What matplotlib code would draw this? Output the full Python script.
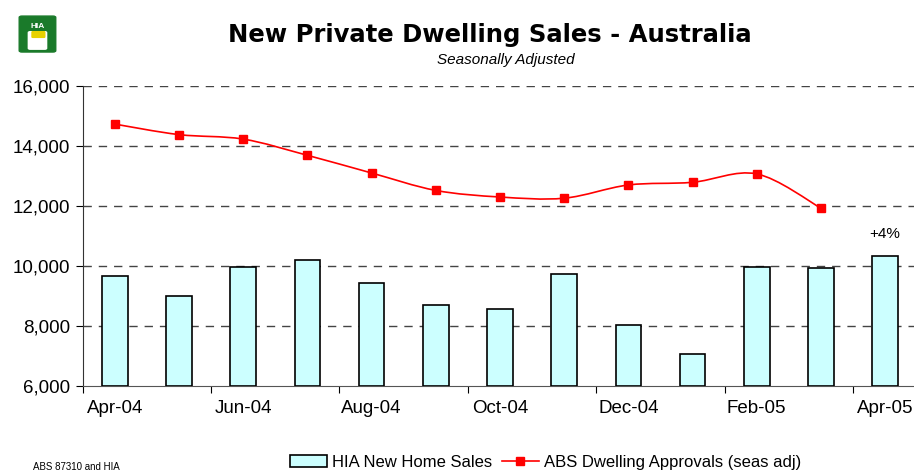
import matplotlib
matplotlib.use("Agg")
import matplotlib.pyplot as plt
import numpy as np
from matplotlib.path import Path
from matplotlib.patches import PathPatch, FancyBboxPatch
from matplotlib.lines import Line2D
from matplotlib.patches import Patch

# data
months = ["Apr-04", "May-04", "Jun-04", "Jul-04", "Aug-04", "Sep-04", "Oct-04",
          "Nov-04", "Dec-04", "Jan-05", "Feb-05", "Mar-05", "Apr-05"]
hia_sales = [9640, 9000, 9960, 10180, 9420, 8690, 8560,
             9730, 8020, 7070, 9960, 9910, 10320]
abs_approvals = [14720, 14370, 14220, 13680, 13090, 12510, 12290,
                 12250, 12690, 12780, 13060, 11920]
yticks = [6000, 8000, 10000, 12000, 14000, 16000]

plt.rcParams['font.family'] = ['Liberation Sans', 'DejaVu Sans']

fig = plt.figure(figsize=(9.14, 4.73), dpi=100)
ax = fig.add_axes([0.0905, 0.1846, 0.913, 0.6342])

x = np.arange(len(months))
ax.bar(x, [v - 6000 for v in hia_sales], bottom=6000, width=0.4,
       color='#CCFFFF', edgecolor='black', linewidth=1.2, zorder=3)

# smoothed line (excel style bezier through the points)
xa = np.arange(len(abs_approvals), dtype=float)
ya = np.array(abs_approvals, dtype=float)
verts = [(xa[0], ya[0])]
codes = [Path.MOVETO]
n = len(xa)
for i in range(n - 1):
    p0 = np.array([xa[max(i - 1, 0)], ya[max(i - 1, 0)]])
    p1 = np.array([xa[i], ya[i]])
    p2 = np.array([xa[i + 1], ya[i + 1]])
    p3 = np.array([xa[min(i + 2, n - 1)], ya[min(i + 2, n - 1)]])
    c1 = p1 + (p2 - p0) / 6
    c2 = p2 - (p3 - p1) / 6
    verts += [tuple(c1), tuple(c2), tuple(p2)]
    codes += [Path.CURVE4] * 3
ax.add_patch(PathPatch(Path(verts, codes), facecolor='none', edgecolor='red',
                       linewidth=1.2, zorder=4))
ax.plot(xa, ya, linestyle='none', marker='s', markersize=5.8, color='red', zorder=5)

ax.set_ylim(6000, 16000)
ax.set_xlim(-0.5, len(months) - 0.5)
ax.set_yticks(yticks)
ax.set_yticklabels([f"{v:,}" for v in yticks], fontsize=13.5)
for v in yticks[1:]:
    ax.axhline(v, color='#444444', linestyle=(0, (6, 5)), linewidth=1.0, zorder=1)

ax.set_xticks(np.arange(-0.5, len(months), 2))
ax.set_xticklabels([])
ax.set_xticks(x[::2], minor=True)
ax.set_xticklabels(months[::2], minor=True, fontsize=13.5)
ax.tick_params(axis='x', which='minor', length=0, pad=10)
ax.tick_params(axis='x', which='major', length=5, direction='out')
ax.tick_params(axis='y', length=5, direction='out', pad=4)

for s in ['top', 'right']:
    ax.spines[s].set_visible(False)
ax.spines['left'].set_color('#333333')
ax.spines['bottom'].set_color('#555555')

ax.text(x[-1], hia_sales[-1] + 500, "+4%", ha='center', va='bottom', fontsize=11)

fig.text(0.536, 0.926, "New Private Dwelling Sales - Australia", ha='center', va='center',
         fontsize=17.5, fontweight='bold', family='DejaVu Sans')
fig.text(0.553, 0.873, "Seasonally Adjusted", ha='center', va='center',
         fontsize=11, style='italic')

# logo
fig.patches.append(FancyBboxPatch((0.024, 0.893), 0.034, 0.07, boxstyle='round,pad=0.003',
                                  transform=fig.transFigure, facecolor='#1a7a2a',
                                  edgecolor='#1a7a2a', figure=fig))
fig.text(0.041, 0.945, "HIA", ha='center', va='center', color='white',
         fontsize=6, fontweight='bold')
fig.patches.append(FancyBboxPatch((0.033, 0.898), 0.016, 0.033, boxstyle='round,pad=0.002',
                                  transform=fig.transFigure, facecolor='white',
                                  edgecolor='white', figure=fig))
fig.patches.append(FancyBboxPatch((0.036, 0.922), 0.012, 0.01, boxstyle='round,pad=0.001',
                                  transform=fig.transFigure, facecolor='#e8d200',
                                  edgecolor='#e8d200', figure=fig))

handles = [Patch(facecolor='#CCFFFF', edgecolor='black', linewidth=1.2),
           Line2D([], [], color='red', marker='s', markersize=6, linewidth=1.2)]
fig.legend(handles, ["HIA New Home Sales", "ABS Dwelling Approvals (seas adj)"],
           loc='center', bbox_to_anchor=(0.597, 0.022), ncol=2, frameon=False,
           fontsize=12, handlelength=2.2, columnspacing=0.6, handletextpad=0.3)

fig.text(0.036, 0.012, "ABS 87310 and HIA", ha='left', va='center', fontsize=7)

fig.savefig("out.png", dpi=100)
